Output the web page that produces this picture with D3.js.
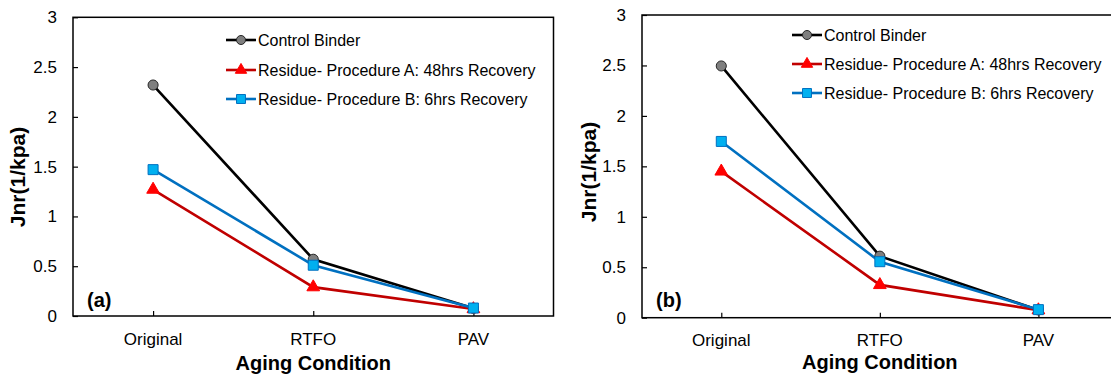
<!DOCTYPE html>
<html>
<head>
<meta charset="utf-8">
<script src="https://cdn.jsdelivr.net/npm/d3@7"></script>
<style>
  body { margin: 0; background: #fff; }
  svg { display: block; }
</style>
</head>
<body>
<div id="chart"></div>
<script>
// data
const categories = ["Original", "RTFO", "PAV"]
const yTicks = [0, 0.5, 1, 1.5, 2, 2.5, 3]
const seriesNames = [
  "Control Binder",
  "Residue- Procedure A: 48hrs Recovery",
  "Residue- Procedure B: 6hrs Recovery"
]
const panelA_control = [2.32, 0.57, 0.077]
const panelA_procA = [1.27, 0.29, 0.07]
const panelA_procB = [1.47, 0.51, 0.08]
const panelB_control = [2.495, 0.61, 0.077]
const panelB_procA = [1.45, 0.325, 0.075]
const panelB_procB = [1.747, 0.555, 0.08]

const W = 1111, H = 379
const font = "'Liberation Sans', Arial, sans-serif"

// per series look
const styles = [
  {line: "#000000", fill: "#7f7f7f", stroke: "#262626", symbol: d3.symbolCircle, size: 80},
  {line: "#c00000", fill: "#ff0000", stroke: "#ff0000", symbol: d3.symbolTriangle, size: 70},
  {line: "#0070c0", fill: "#00b0f0", stroke: "#0070c0", symbol: d3.symbolSquare, size: 100}
]

const svg = d3.select("#chart").append("svg")
  .attr("width", W)
  .attr("height", H)

const panels = [
  {
    label: "(a)", series: [panelA_control, panelA_procA, panelA_procB],
    left: 73, right: 553.5, top: 17.3, bottom: 316,
    legendX: 226, legendY: [40, 70, 99],
    yTitleX: 18, yTitleY: 177, tickLabelY: 339, xTitleY: 363
  },
  {
    label: "(b)", series: [panelB_control, panelB_procA, panelB_procB],
    left: 642, right: 1117.7, top: 15, bottom: 317.7,
    legendX: 792, legendY: [35, 64, 93],
    yTitleX: 589, yTitleY: 172, tickLabelY: 340, xTitleY: 362
  }
]

function drawPanel(p) {
  const g = svg.append("g").attr("class", "panel")

  const x = d3.scalePoint()
    .domain(categories)
    .range([p.left, p.right])
    .padding(0.5)

  const y = d3.scaleLinear()
    .domain([0, 3])
    .range([p.bottom, p.top])

  // frame
  g.append("rect")
    .attr("x", p.left).attr("y", p.top)
    .attr("width", p.right - p.left).attr("height", p.bottom - p.top)
    .attr("fill", "none")
    .attr("stroke", "#000")
    .attr("stroke-width", 1.5)

  // y axis, ticks inside
  const yAxis = g.append("g")
    .attr("transform", `translate(${p.left},0)`)
    .call(d3.axisRight(y).tickValues(yTicks).tickSize(5).tickFormat(""))
  yAxis.select(".domain").remove()
  yAxis.selectAll("line").attr("stroke", "#000").attr("stroke-width", 1.2)

  g.append("g").selectAll("text")
    .data(yTicks)
    .join("text")
    .attr("x", p.left - 16)
    .attr("y", d => y(d))
    .attr("dy", "0.35em")
    .attr("text-anchor", "end")
    .style("font-family", font)
    .style("font-size", "17px")
    .attr("fill", "#000")
    .text(d => d)

  // x axis, ticks inside
  const xAxis = g.append("g")
    .attr("transform", `translate(0,${p.bottom})`)
    .call(d3.axisTop(x).tickSize(5).tickFormat(""))
  xAxis.select(".domain").remove()
  xAxis.selectAll("line").attr("stroke", "#000").attr("stroke-width", 1.2)

  g.append("g").selectAll("text")
    .data(categories)
    .join("text")
    .attr("x", d => x(d))
    .attr("y", p.tickLabelY)
    .attr("dy", "0.35em")
    .attr("text-anchor", "middle")
    .style("font-family", font)
    .style("font-size", "17px")
    .attr("fill", "#000")
    .text(d => d)

  // titles
  g.append("text")
    .attr("x", x("RTFO"))
    .attr("y", p.xTitleY)
    .attr("dy", "0.35em")
    .attr("text-anchor", "middle")
    .style("font-family", font)
    .style("font-size", "20px")
    .style("font-weight", "bold")
    .text("Aging Condition")

  g.append("text")
    .attr("transform", `translate(${p.yTitleX},${p.yTitleY}) rotate(-90)`)
    .attr("dy", "0.35em")
    .attr("text-anchor", "middle")
    .style("font-family", font)
    .style("font-size", "21px")
    .style("font-weight", "bold")
    .text("Jnr(1/kpa)")

  g.append("text")
    .attr("x", p.left + 14)
    .attr("y", 300)
    .attr("dy", "0.35em")
    .style("font-family", font)
    .style("font-size", "20px")
    .style("font-weight", "bold")
    .text(p.label)

  // lines and markers
  const line = d3.line()
    .x((d, i) => x(categories[i]))
    .y(d => y(d))

  p.series.forEach((vals, k) => {
    const s = styles[k]
    g.append("path")
      .datum(vals)
      .attr("d", line)
      .attr("fill", "none")
      .attr("stroke", s.line)
      .attr("stroke-width", 2.6)
  })

  p.series.forEach((vals, k) => {
    const s = styles[k]
    g.append("g").selectAll("path")
      .data(vals)
      .join("path")
      .attr("transform", (d, i) => `translate(${x(categories[i])},${y(d)})`)
      .attr("d", d3.symbol().type(s.symbol).size(s.size))
      .attr("fill", s.fill)
      .attr("stroke", s.stroke)
      .attr("stroke-width", 1)
  })

  // legend
  const leg = g.append("g").attr("class", "legend")
  seriesNames.forEach((name, k) => {
    const s = styles[k]
    const ly = p.legendY[k]
    leg.append("line")
      .attr("x1", p.legendX).attr("x2", p.legendX + 30)
      .attr("y1", ly).attr("y2", ly)
      .attr("stroke", s.line)
      .attr("stroke-width", 2.6)
    leg.append("path")
      .attr("transform", `translate(${p.legendX + 15},${ly})`)
      .attr("d", d3.symbol().type(s.symbol).size(s.size * 0.8))
      .attr("fill", s.fill)
      .attr("stroke", s.stroke)
      .attr("stroke-width", 1)
    leg.append("text")
      .attr("x", p.legendX + 32)
      .attr("y", ly)
      .attr("dy", "0.35em")
      .style("font-family", font)
      .style("font-size", "16px")
      .attr("fill", "#000")
      .text(name)
  })
}

panels.forEach(drawPanel)
</script>
</body>
</html>
